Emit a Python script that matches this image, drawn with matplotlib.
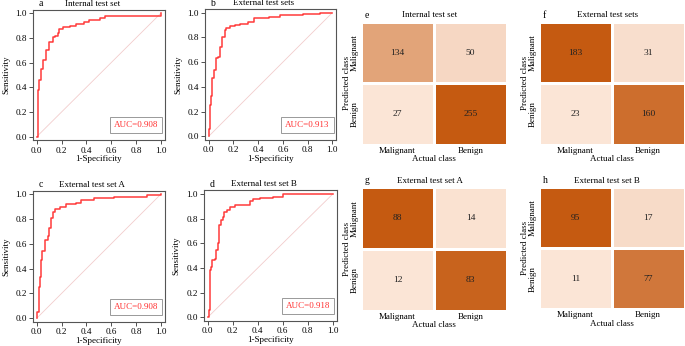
import numpy as np
import matplotlib
matplotlib.use("Agg")
import matplotlib.pyplot as plt
from matplotlib.colors import LinearSegmentedColormap, Normalize

plt.rcParams['font.family'] = ['Liberation Serif', 'DejaVu Serif']
plt.rcParams['font.size'] = 6.5

# ROC curves
fpr_a = [0, 0.008, 0.008, 0.02, 0.035, 0.054, 0.073, 0.094, 0.10, 0.12, 0.13, 0.148, 0.175,
         0.18, 0.215, 0.27, 0.32, 0.38, 0.42, 0.51, 0.55, 0.83, 1.0]
tpr_a = [0, 0.05, 0.378, 0.46, 0.55, 0.62, 0.70, 0.70, 0.77, 0.77, 0.81, 0.82, 0.84,
         0.87, 0.886, 0.897, 0.91, 0.93, 0.946, 0.96, 0.98, 0.98, 1.0]

fpr_b = [0, 0.005, 0.014, 0.02, 0.03, 0.043, 0.057, 0.076, 0.09, 0.108, 0.13, 0.143, 0.17,
         0.21, 0.25, 0.32, 0.37, 0.49, 0.576, 0.765, 0.9, 1.0]
tpr_b = [0, 0.06, 0.25, 0.33, 0.47, 0.535, 0.63, 0.645, 0.72, 0.805, 0.86, 0.88, 0.89,
         0.90, 0.91, 0.927, 0.954, 0.968, 0.98, 0.99, 0.995, 1.0]

fpr_c = [0, 0.005, 0.016, 0.027, 0.035, 0.046, 0.067, 0.088, 0.10, 0.115, 0.134, 0.147, 0.19,
         0.24, 0.32, 0.36, 0.46, 0.62, 0.885, 1.0]
tpr_c = [0, 0.054, 0.255, 0.336, 0.47, 0.54, 0.63, 0.66, 0.726, 0.806, 0.86, 0.88, 0.895,
         0.92, 0.93, 0.954, 0.968, 0.98, 0.995, 1.0]

fpr_d = [0, 0.01, 0.016, 0.027, 0.035, 0.059, 0.064, 0.08, 0.085, 0.093, 0.104, 0.125, 0.133,
         0.152, 0.18, 0.22, 0.31, 0.34, 0.365, 0.42, 0.525, 0.605, 1.0]
tpr_d = [0, 0.06, 0.38, 0.41, 0.465, 0.47, 0.546, 0.55, 0.60, 0.75, 0.79, 0.816, 0.857,
         0.87, 0.897, 0.91, 0.91, 0.94, 0.957, 0.965, 0.978, 1.0, 1.0]

roc_titles = ["Internal test set", "External test sets", "External test set A", "External test set B"]
roc_letters = ["a", "b", "c", "d"]
auc_values = [0.908, 0.913, 0.908, 0.918]

# confusion matrices: rows = predicted (Malignant, Benign), cols = actual
cm_e = [[134, 50], [27, 255]]
cm_f = [[183, 31], [23, 160]]
cm_g = [[88, 14], [12, 83]]
cm_h = [[95, 17], [11, 77]]
cm_titles = ["Internal test set", "External test sets", "External test set A", "External test set B"]
cm_letters = ["e", "f", "g", "h"]
classes = ["Malignant", "Benign"]

W, H = 685, 346
fig = plt.figure(figsize=(W / 100, H / 100), dpi=100)


def box(l, t, r, b):
    return [l / W, 1 - b / H, (r - l) / W, (b - t) / H]


roc_boxes = [(33, 9.6, 164.5, 140.4), (205, 9, 336, 140),
             (33, 190.5, 164.5, 322), (204, 190.3, 336.5, 321)]
roc_data = [(fpr_a, tpr_a), (fpr_b, tpr_b), (fpr_c, tpr_c), (fpr_d, tpr_d)]

for i, (fpr, tpr) in enumerate(roc_data):
    ax = fig.add_axes(box(*roc_boxes[i]))
    ax.plot([0, 1], [0, 1], color='#f2cccc', lw=0.6, zorder=1)
    ax.plot(fpr, tpr, color='#ff3b3b', lw=1.1, drawstyle='steps-post', zorder=2)
    ax.set_xlim(-0.03, 1.03)
    ax.set_ylim(-0.03, 1.03)
    ticks = [0, 0.2, 0.4, 0.6, 0.8, 1.0]
    ax.set_xticks(ticks)
    ax.set_yticks(ticks)
    ax.set_xticklabels(["%.1f" % t for t in ticks])
    ax.set_yticklabels(["%.1f" % t for t in ticks])
    ax.tick_params(direction='out', length=3, width=0.6, pad=1.5, colors='#333333',
                   labelcolor='black', labelsize=6.6)
    for s in ax.spines.values():
        s.set_color('#555555')
        s.set_linewidth(0.8)
    ax.text(0.80, 0.093, "AUC=%.3f" % auc_values[i], color='#ff3030', fontsize=6.5,
            ha='center', va='center',
            bbox=dict(boxstyle='square,pad=0.45', fc='white', ec='#999999', lw=0.7))
    ax.text(-0.205, 0.5, "Sensitivity", rotation=90, ha='center', va='center',
            transform=ax.transAxes)
    ax.text(0.5, -0.142, "1-Specificity", ha='center', va='center', transform=ax.transAxes)
    ax.text(0.45, 1.045, roc_titles[i], ha='center', va='center', transform=ax.transAxes)
    ax.text(0.04, 1.045, roc_letters[i], ha='left', va='center', transform=ax.transAxes,
            fontsize=7)

cmap = LinearSegmentedColormap.from_list("orng", ["#fbe5d6", "#c55a11"])
cm_boxes = [(361, 21.7, 507, 145), (539, 21.7, 684.5, 145),
            (361, 187.3, 507, 310.7), (539, 187.3, 684.5, 309.3)]
cms = [cm_e, cm_f, cm_g, cm_h]

for i, cm in enumerate(cms):
    ax = fig.add_axes(box(*cm_boxes[i]))
    m = np.array(cm)
    ax.pcolormesh(m, cmap=cmap, norm=Normalize(m.min(), m.max()),
                  edgecolors='white', linewidth=1.0)
    ax.set_xlim(0, 2)
    ax.set_ylim(2, 0)
    for r in range(2):
        for c in range(2):
            ax.text(c + 0.5, r + 0.5, str(m[r, c]), ha='center', va='center',
                    fontsize=6.8, color='#222222')
    ax.set_xticks([0.5, 1.5])
    ax.set_yticks([0.5, 1.5])
    ax.set_xticklabels(classes)
    ax.set_yticklabels(classes, rotation=90, va='center')
    ax.tick_params(length=0, pad=1.5, labelsize=6.5)
    for s in ax.spines.values():
        s.set_visible(False)
    w = cm_boxes[i][2] - cm_boxes[i][0]
    h = cm_boxes[i][3] - cm_boxes[i][1]
    ax.text(-14 / w, 0.5, "Predicted class", rotation=90, ha='center', va='center',
            transform=ax.transAxes)
    ax.text(0.5, -14.5 / h, "Actual class", ha='center', va='center', transform=ax.transAxes)
    ax.text(0.47, 1 + 6.7 / h, cm_titles[i], ha='center', va='center', transform=ax.transAxes)
    ax.text(4 / w, 1 + 6.7 / h, cm_letters[i], ha='left', va='center',
            transform=ax.transAxes, fontsize=7)

fig.savefig("out.png", dpi=100)
